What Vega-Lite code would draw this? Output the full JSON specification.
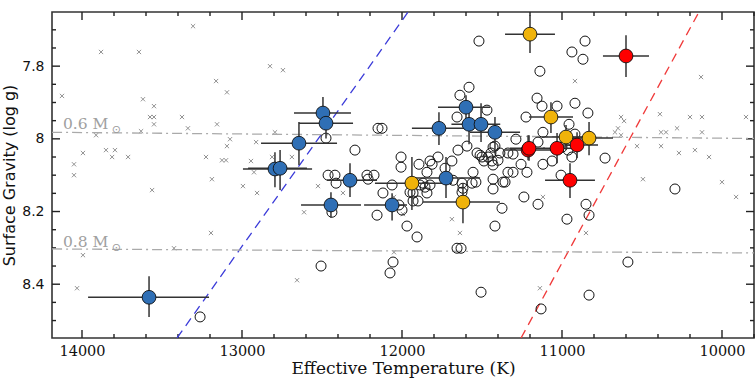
{
  "$schema": "https://vega.github.io/schema/vega-lite/v6.json",
  "width": 702,
  "height": 326,
  "autosize": "none",
  "padding": {"left": 52, "top": 12, "right": 2, "bottom": 45},
  "background": "white",
  "config": {
    "view": {"stroke": "#333", "strokeWidth": 1.6},
    "axis": {"domain": false, "ticks": false, "grid": false}
  },
  "resolve": {"axis": {"x": "independent", "y": "independent"}},
  "datasets": {
    "crosses": [
      {"T":14125,"g":7.882},{"T":13881,"g":7.761},{"T":13644,"g":7.761},{"T":13306,"g":7.690},{"T":13619,"g":7.891},{"T":13550,"g":7.910},{"T":13575,"g":7.940},{"T":13550,"g":7.940},{"T":13550,"g":7.960},{"T":13375,"g":7.940},{"T":13338,"g":7.971},{"T":13631,"g":7.979},{"T":13912,"g":7.990},{"T":13162,"g":7.841},{"T":13094,"g":7.872},{"T":13156,"g":7.960},{"T":13075,"g":8.001},{"T":13094,"g":8.020},{"T":13125,"g":8.059},{"T":13100,"g":8.059},{"T":12912,"g":8.009},{"T":13225,"g":8.050},{"T":13188,"g":8.111},{"T":12994,"g":8.130},{"T":12925,"g":8.092},{"T":12906,"g":8.149},{"T":13850,"g":8.031},{"T":13794,"g":8.031},{"T":13812,"g":8.050},{"T":13712,"g":8.050},{"T":13994,"g":8.039},{"T":14050,"g":8.070},{"T":14050,"g":8.100},{"T":13562,"g":8.141},{"T":13194,"g":8.259},{"T":13425,"g":8.301},{"T":13994,"g":8.320},{"T":14031,"g":8.411},{"T":12825,"g":7.800},{"T":12744,"g":7.811},{"T":12794,"g":7.982},{"T":12812,"g":8.050},{"T":12688,"g":8.050},{"T":12944,"g":8.061},{"T":12525,"g":8.130},{"T":12369,"g":8.149},{"T":12612,"g":8.202},{"T":12656,"g":8.389},{"T":12050,"g":8.312},{"T":11994,"g":8.207},{"T":12050,"g":8.160},{"T":11688,"g":8.221},{"T":11638,"g":8.259},{"T":10919,"g":7.841},{"T":10131,"g":7.830},{"T":10631,"g":7.940},{"T":10612,"g":7.951},{"T":10388,"g":7.932},{"T":10200,"g":7.940},{"T":10125,"g":7.940},{"T":9850,"g":7.940},{"T":10669,"g":7.982},{"T":10650,"g":7.971},{"T":10631,"g":7.990},{"T":10381,"g":7.982},{"T":10350,"g":7.982},{"T":10281,"g":7.971},{"T":10125,"g":7.982},{"T":10531,"g":8.020},{"T":10381,"g":8.020},{"T":10269,"g":8.039},{"T":10169,"g":8.031},{"T":10081,"g":8.050},{"T":10494,"g":8.111},{"T":10000,"g":8.119},{"T":9912,"g":8.160},{"T":11119,"g":8.160},{"T":10850,"g":8.259},{"T":11138,"g":8.411}
    ],
    "open": [
      {"T":13262,"g":8.490},{"T":11519,"g":7.731},{"T":11581,"g":7.858},{"T":11638,"g":7.880},{"T":11469,"g":7.921},{"T":11656,"g":7.940},{"T":12150,"g":7.971},{"T":12125,"g":7.971},{"T":12475,"g":7.998},{"T":12294,"g":8.031},{"T":11594,"g":8.020},{"T":11650,"g":8.031},{"T":11419,"g":8.020},{"T":12006,"g":8.050},{"T":12006,"g":8.078},{"T":11775,"g":8.050},{"T":11825,"g":8.061},{"T":11894,"g":8.070},{"T":11812,"g":8.070},{"T":11688,"g":8.061},{"T":11731,"g":8.081},{"T":11844,"g":8.092},{"T":11556,"g":8.092},{"T":11531,"g":8.039},{"T":11500,"g":8.050},{"T":11488,"g":8.061},{"T":11438,"g":8.061},{"T":11388,"g":8.039},{"T":11338,"g":8.039},{"T":11444,"g":8.039},{"T":11431,"g":8.111},{"T":11356,"g":8.119},{"T":12462,"g":8.100},{"T":12419,"g":8.100},{"T":12412,"g":8.122},{"T":12219,"g":8.100},{"T":12212,"g":8.111},{"T":12062,"g":8.127},{"T":11869,"g":8.122},{"T":11825,"g":8.127},{"T":12119,"g":8.149},{"T":11625,"g":8.122},{"T":11619,"g":8.136},{"T":11625,"g":8.147},{"T":11562,"g":8.122},{"T":11431,"g":8.138},{"T":12438,"g":8.202},{"T":12156,"g":8.210},{"T":12019,"g":8.182},{"T":12000,"g":8.196},{"T":11931,"g":8.149},{"T":11931,"g":8.171},{"T":11900,"g":8.171},{"T":11969,"g":8.240},{"T":11906,"g":8.270},{"T":11844,"g":8.149},{"T":11656,"g":8.301},{"T":11631,"g":8.301},{"T":12506,"g":8.350},{"T":12056,"g":8.339},{"T":12075,"g":8.369},{"T":11506,"g":8.422},{"T":11375,"g":8.191},{"T":11419,"g":8.240},{"T":11138,"g":7.814},{"T":11156,"g":7.888},{"T":11125,"g":7.910},{"T":11031,"g":7.910},{"T":10919,"g":7.902},{"T":10838,"g":7.929},{"T":11225,"g":7.940},{"T":10956,"g":7.960},{"T":11119,"g":7.982},{"T":11288,"g":8.001},{"T":11150,"g":8.009},{"T":10919,"g":7.987},{"T":11000,"g":8.023},{"T":10962,"g":8.031},{"T":10731,"g":8.053},{"T":10856,"g":7.731},{"T":10938,"g":7.761},{"T":10869,"g":7.781},{"T":11119,"g":8.070},{"T":11062,"g":8.061},{"T":11256,"g":8.070},{"T":11219,"g":8.092},{"T":11338,"g":8.092},{"T":11306,"g":8.092},{"T":11369,"g":8.119},{"T":11306,"g":8.042},{"T":11006,"g":8.100},{"T":10938,"g":8.050},{"T":11238,"g":8.160},{"T":10294,"g":8.138},{"T":11150,"g":8.180},{"T":10969,"g":8.221},{"T":10850,"g":8.180},{"T":10831,"g":8.210},{"T":10588,"g":8.339},{"T":10831,"g":8.430},{"T":11131,"g":8.468},{"T":12175,"g":8.100},{"T":11888,"g":8.127},{"T":11856,"g":8.133},{"T":11950,"g":8.147},{"T":11512,"g":8.045},{"T":11462,"g":8.050},{"T":11431,"g":8.072},{"T":11400,"g":8.059},{"T":11538,"g":8.119},{"T":11681,"g":8.114},{"T":11431,"g":8.023}
    ],
    "filled": [
      {"grp":"b","T":13581,"g":8.436,"Tlo":13206,"Thi":13962,"glo":8.378,"ghi":8.490},
      {"grp":"b","T":12494,"g":7.929,"Tlo":12319,"Thi":12675,"glo":7.885,"ghi":7.973},
      {"grp":"b","T":12475,"g":7.957,"Tlo":12306,"Thi":12644,"glo":7.915,"ghi":7.999},
      {"grp":"b","T":12644,"g":8.012,"Tlo":12406,"Thi":12881,"glo":7.954,"ghi":8.072},
      {"grp":"b","T":12794,"g":8.083,"Tlo":12562,"Thi":12994,"glo":8.037,"ghi":8.133},
      {"grp":"b","T":12762,"g":8.081,"Tlo":12594,"Thi":12962,"glo":8.031,"ghi":8.141},
      {"grp":"b","T":12325,"g":8.114,"Tlo":12156,"Thi":12469,"glo":8.067,"ghi":8.160},
      {"grp":"b","T":12444,"g":8.182,"Tlo":12256,"Thi":12631,"glo":8.147,"ghi":8.217},
      {"grp":"b","T":12062,"g":8.182,"Tlo":11969,"Thi":12237,"glo":8.150,"ghi":8.225},
      {"grp":"b","T":11769,"g":7.971,"Tlo":11594,"Thi":11938,"glo":7.927,"ghi":8.017},
      {"grp":"b","T":11600,"g":7.913,"Tlo":11450,"Thi":11775,"glo":7.880,"ghi":7.946},
      {"grp":"b","T":11581,"g":7.960,"Tlo":11471,"Thi":11691,"glo":7.905,"ghi":8.015},
      {"grp":"b","T":11506,"g":7.960,"Tlo":11386,"Thi":11626,"glo":7.902,"ghi":8.009},
      {"grp":"b","T":11419,"g":7.982,"Tlo":11262,"Thi":11575,"glo":7.940,"ghi":8.039},
      {"grp":"b","T":11725,"g":8.108,"Tlo":11512,"Thi":11931,"glo":8.050,"ghi":8.163},
      {"grp":"o","T":11200,"g":7.712,"Tlo":11044,"Thi":11356,"glo":7.660,"ghi":7.764},
      {"grp":"o","T":11069,"g":7.940,"Tlo":10931,"Thi":11206,"glo":7.899,"ghi":7.984},
      {"grp":"o","T":10975,"g":7.995,"Tlo":10869,"Thi":11125,"glo":7.962,"ghi":8.031},
      {"grp":"o","T":10831,"g":7.998,"Tlo":10681,"Thi":10931,"glo":7.954,"ghi":8.045},
      {"grp":"o","T":11938,"g":8.122,"Tlo":11688,"Thi":12169,"glo":8.050,"ghi":8.196},
      {"grp":"o","T":11619,"g":8.174,"Tlo":11388,"Thi":11869,"glo":8.122,"ghi":8.232},
      {"grp":"r","T":10600,"g":7.772,"Tlo":10456,"Thi":10744,"glo":7.715,"ghi":7.830},
      {"grp":"r","T":11212,"g":8.031,"Tlo":11025,"Thi":11356,"glo":7.990,"ghi":8.059},
      {"grp":"r","T":11206,"g":8.026,"Tlo":11106,"Thi":11325,"glo":7.990,"ghi":8.060},
      {"grp":"r","T":11031,"g":8.026,"Tlo":10938,"Thi":11119,"glo":7.984,"ghi":8.067},
      {"grp":"r","T":10906,"g":8.017,"Tlo":10775,"Thi":11025,"glo":7.982,"ghi":8.053},
      {"grp":"r","T":10950,"g":8.114,"Tlo":10794,"Thi":11106,"glo":8.067,"ghi":8.163}
    ],
    "blueline": [{"T":13406,"g":8.548},{"T":11962,"g":7.651}],
    "redline": [{"T":11256,"g":8.548},{"T":10144,"g":7.651}],
    "m06": [{"T":14187,"g":7.982},{"T":9800,"g":7.999}],
    "m08": [{"T":14187,"g":8.303},{"T":9800,"g":8.314}],
    "labels": [{"T":14119,"g":7.960,"text":"0.6 M"},{"T":14119,"g":8.284,"text":"0.8 M"}],
    "suns": [{"T":13785,"g":7.976,"text":"⊙"},{"T":13785,"g":8.300,"text":"⊙"}],
    "xmaj": [{"v":10000},{"v":11000},{"v":12000},{"v":13000},{"v":14000}],
    "xmin": [{"v":9800},{"v":10200},{"v":10400},{"v":10600},{"v":10800},{"v":11200},{"v":11400},{"v":11600},{"v":11800},{"v":12200},{"v":12400},{"v":12600},{"v":12800},{"v":13200},{"v":13400},{"v":13600},{"v":13800}],
    "ymaj": [{"v":7.8},{"v":8},{"v":8.2},{"v":8.4}],
    "ymin": [{"v":7.7},{"v":7.75},{"v":7.85},{"v":7.9},{"v":7.95},{"v":8.05},{"v":8.1},{"v":8.15},{"v":8.25},{"v":8.3},{"v":8.35},{"v":8.45},{"v":8.5}]
  },
  "layer": [
    {
      "data": {"name": "crosses"},
      "mark": {"type": "point", "shape": "M-1,-1L1,1M1,-1L-1,1", "filled": false, "stroke": "#666", "strokeWidth": 1, "size": 18},
      "encoding": {
        "x": {"field": "T", "type": "quantitative",
          "scale": {"domain": [9800, 14187.5], "reverse": true, "zero": false, "nice": false},
          "axis": {"orient": "bottom", "values": [10000, 11000, 12000, 13000, 14000], "format": "d", "labelPadding": 6,
            "labelFont": "DejaVu Serif", "labelFontSize": 14.5, "labelColor": "#111",
            "title": "Effective Temperature (K)", "titleFont": "DejaVu Serif", "titleFontSize": 17, "titleFontWeight": "normal", "titleColor": "#111", "titlePadding": 3}},
        "y": {"field": "g", "type": "quantitative",
          "scale": {"domain": [7.651, 8.548], "reverse": true, "zero": false, "nice": false},
          "axis": {"orient": "left", "values": [7.8, 8, 8.2, 8.4], "format": ".1~f", "labelPadding": 8,
            "labelFont": "DejaVu Sans", "labelFontSize": 14, "labelColor": "#111",
            "title": "Surface Gravity (log g)", "titleFont": "DejaVu Sans", "titleFontSize": 16, "titleFontWeight": "normal", "titleColor": "#111", "titlePadding": 4}}
      }
    },
    {
      "data": {"name": "xmaj"},
      "mark": {"type": "rule", "color": "#222", "strokeWidth": 1.4},
      "encoding": {"x": {"field": "v", "type": "quantitative", "axis": null}, "y": {"datum": 7.651, "type": "quantitative", "axis": null}, "y2": {"datum": 7.673}}
    },
    {
      "data": {"name": "xmaj"},
      "mark": {"type": "rule", "color": "#222", "strokeWidth": 1.4},
      "encoding": {"x": {"field": "v", "type": "quantitative", "axis": null}, "y": {"datum": 8.526, "type": "quantitative", "axis": null}, "y2": {"datum": 8.548}}
    },
    {
      "data": {"name": "xmin"},
      "mark": {"type": "rule", "color": "#222", "strokeWidth": 1.4},
      "encoding": {"x": {"field": "v", "type": "quantitative", "axis": null}, "y": {"datum": 7.651, "type": "quantitative", "axis": null}, "y2": {"datum": 7.662}}
    },
    {
      "data": {"name": "xmin"},
      "mark": {"type": "rule", "color": "#222", "strokeWidth": 1.4},
      "encoding": {"x": {"field": "v", "type": "quantitative", "axis": null}, "y": {"datum": 8.537, "type": "quantitative", "axis": null}, "y2": {"datum": 8.548}}
    },
    {
      "data": {"name": "ymaj"},
      "mark": {"type": "rule", "color": "#222", "strokeWidth": 1.4},
      "encoding": {"y": {"field": "v", "type": "quantitative", "axis": null}, "x": {"datum": 14187.5, "type": "quantitative", "axis": null}, "x2": {"datum": 14137.5}}
    },
    {
      "data": {"name": "ymaj"},
      "mark": {"type": "rule", "color": "#222", "strokeWidth": 1.4},
      "encoding": {"y": {"field": "v", "type": "quantitative", "axis": null}, "x": {"datum": 9800, "type": "quantitative", "axis": null}, "x2": {"datum": 9850}}
    },
    {
      "data": {"name": "ymin"},
      "mark": {"type": "rule", "color": "#222", "strokeWidth": 1.4},
      "encoding": {"y": {"field": "v", "type": "quantitative", "axis": null}, "x": {"datum": 14187.5, "type": "quantitative", "axis": null}, "x2": {"datum": 14162.5}}
    },
    {
      "data": {"name": "ymin"},
      "mark": {"type": "rule", "color": "#222", "strokeWidth": 1.4},
      "encoding": {"y": {"field": "v", "type": "quantitative", "axis": null}, "x": {"datum": 9800, "type": "quantitative", "axis": null}, "x2": {"datum": 9825}}
    },
    {
      "data": {"name": "blueline"},
      "mark": {"type": "line", "color": "#3b3bd9", "strokeWidth": 1.3, "strokeDash": [9, 6], "clip": true},
      "encoding": {"x": {"field": "T", "type": "quantitative", "axis": null}, "y": {"field": "g", "type": "quantitative", "axis": null}}
    },
    {
      "data": {"name": "redline"},
      "mark": {"type": "line", "color": "#f03a3a", "strokeWidth": 1.3, "strokeDash": [9, 6], "clip": true},
      "encoding": {"x": {"field": "T", "type": "quantitative", "axis": null}, "y": {"field": "g", "type": "quantitative", "axis": null}}
    },
    {
      "data": {"name": "m06"},
      "mark": {"type": "line", "color": "#aaaaaa", "strokeWidth": 1.3, "strokeDash": [10, 4, 2, 4], "clip": true},
      "encoding": {"x": {"field": "T", "type": "quantitative", "axis": null}, "y": {"field": "g", "type": "quantitative", "axis": null}}
    },
    {
      "data": {"name": "m08"},
      "mark": {"type": "line", "color": "#aaaaaa", "strokeWidth": 1.3, "strokeDash": [10, 4, 2, 4], "clip": true},
      "encoding": {"x": {"field": "T", "type": "quantitative", "axis": null}, "y": {"field": "g", "type": "quantitative", "axis": null}}
    },
    {
      "data": {"name": "labels"},
      "mark": {"type": "text", "align": "left", "baseline": "middle", "font": "DejaVu Serif", "fontSize": 15.5, "color": "#a0a0a0"},
      "encoding": {"x": {"field": "T", "type": "quantitative", "axis": null}, "y": {"field": "g", "type": "quantitative", "axis": null}, "text": {"field": "text"}}
    },
    {
      "data": {"name": "suns"},
      "mark": {"type": "text", "align": "center", "baseline": "middle", "font": "DejaVu Sans", "fontSize": 11, "color": "#999999"},
      "encoding": {"x": {"field": "T", "type": "quantitative", "axis": null}, "y": {"field": "g", "type": "quantitative", "axis": null}, "text": {"field": "text"}}
    },
    {
      "data": {"name": "open"},
      "mark": {"type": "point", "shape": "circle", "filled": false, "stroke": "#111", "strokeWidth": 1, "size": 100, "opacity": 1},
      "encoding": {"x": {"field": "T", "type": "quantitative", "axis": null}, "y": {"field": "g", "type": "quantitative", "axis": null}}
    },
    {
      "data": {"name": "filled"},
      "mark": {"type": "rule", "color": "#333", "strokeWidth": 1.5},
      "encoding": {
        "x": {"field": "Tlo", "type": "quantitative", "axis": null},
        "x2": {"field": "Thi"},
        "y": {"field": "g", "type": "quantitative", "axis": null}
      }
    },
    {
      "data": {"name": "filled"},
      "mark": {"type": "rule", "color": "#333", "strokeWidth": 1.5},
      "encoding": {
        "x": {"field": "T", "type": "quantitative", "axis": null},
        "y": {"field": "glo", "type": "quantitative", "axis": null},
        "y2": {"field": "ghi"}
      }
    },
    {
      "data": {"name": "filled"},
      "mark": {"type": "point", "shape": "circle", "filled": true, "stroke": "#111", "strokeWidth": 0.9, "size": 190, "opacity": 1},
      "encoding": {
        "x": {"field": "T", "type": "quantitative", "axis": null},
        "y": {"field": "g", "type": "quantitative", "axis": null},
        "fill": {"field": "grp", "type": "nominal", "legend": null,
          "scale": {"domain": ["b", "o", "r"], "range": ["#2f6fb5", "#f0b30a", "#ff0000"]}}
      }
    }
  ]
}
